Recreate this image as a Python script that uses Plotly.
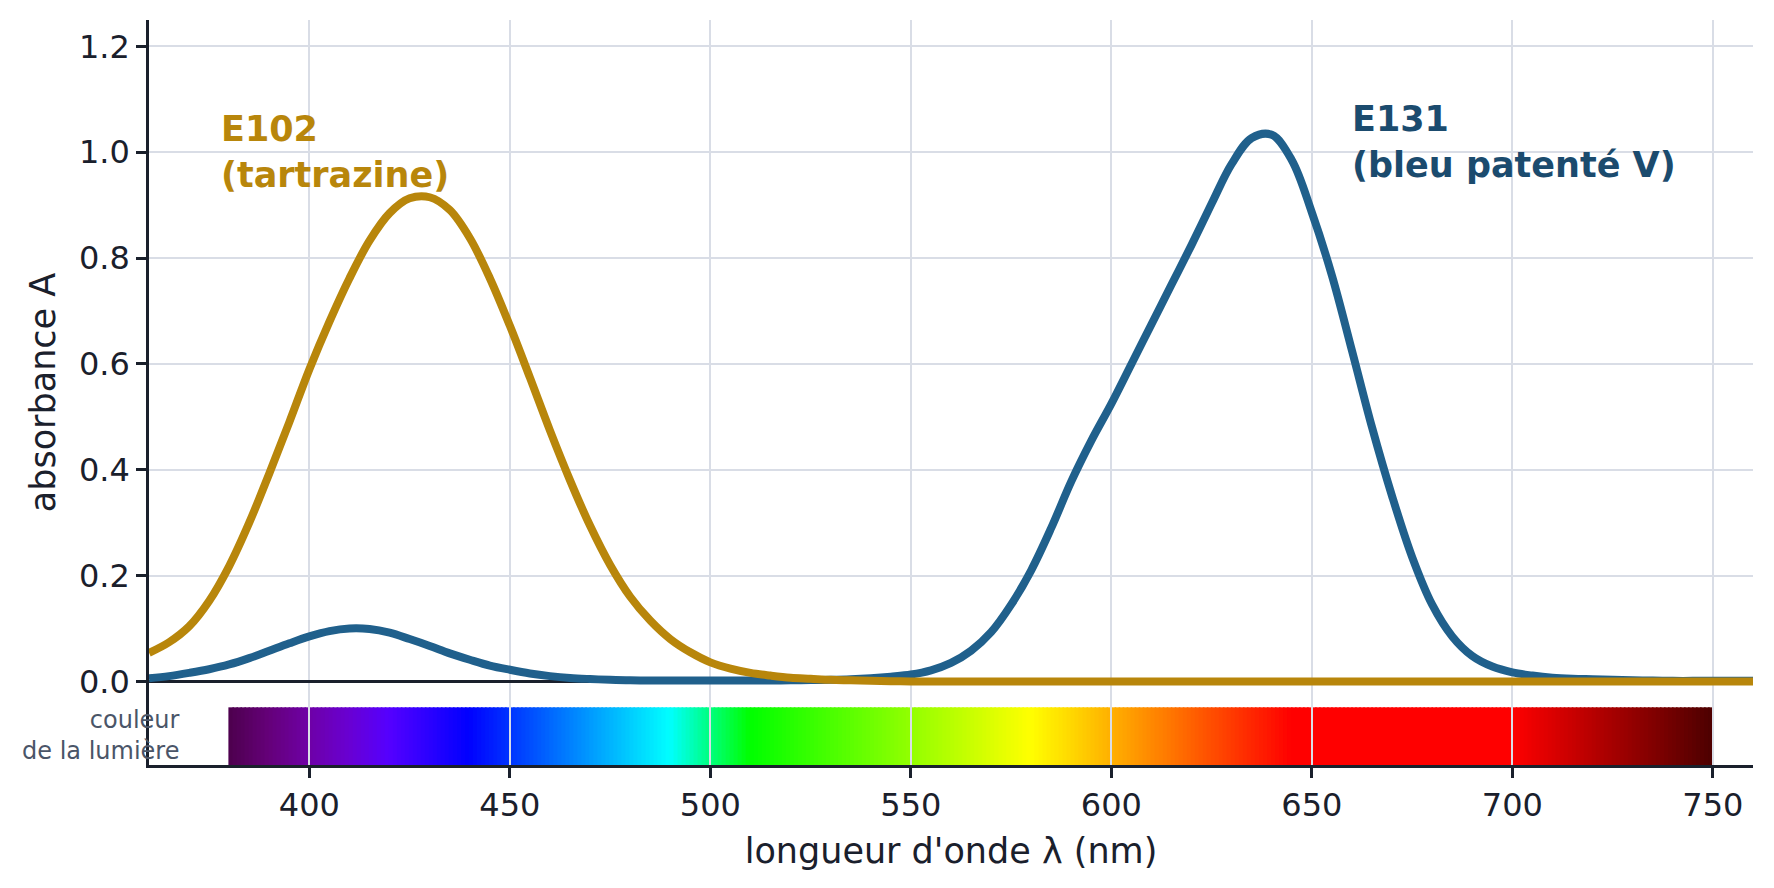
import plotly.graph_objects as go

# ---------------- data ----------------
# wavelength grid (nm), every 5 nm from 360 to 760
wavelength = list(range(360, 765, 5))

absorb_e102 = [0.054, 0.074, 0.104, 0.152, 0.218, 0.300, 0.393, 0.490, 0.590, 0.680,   # 360-405
               0.762, 0.833, 0.885, 0.913, 0.915, 0.891, 0.838, 0.762, 0.672, 0.574,   # 410-455
               0.474, 0.380, 0.294, 0.220, 0.160, 0.115, 0.080, 0.055, 0.036, 0.024,   # 460-505
               0.016, 0.011, 0.007, 0.005, 0.003, 0.002, 0.001, 0.0005, 0.0, 0.0,      # 510-555
               0.0, 0.0, 0.0, 0.0, 0.0, 0.0, 0.0, 0.0, 0.0, 0.0,                       # 560-605
               0.0, 0.0, 0.0, 0.0, 0.0, 0.0, 0.0, 0.0, 0.0, 0.0,                       # 610-655
               0.0, 0.0, 0.0, 0.0, 0.0, 0.0, 0.0, 0.0, 0.0, 0.0,                       # 660-705
               0.0, 0.0, 0.0, 0.0, 0.0, 0.0, 0.0, 0.0, 0.0, 0.0,                       # 710-755
               0.0]                                                                    # 760

absorb_e131 = [0.006, 0.010, 0.016, 0.023, 0.032, 0.044, 0.058, 0.072, 0.085, 0.095,   # 360-405
               0.100, 0.099, 0.092, 0.080, 0.067, 0.053, 0.041, 0.030, 0.022, 0.015,   # 410-455
               0.010, 0.0065, 0.0045, 0.003, 0.002, 0.0017, 0.0015, 0.0015, 0.0015, 0.0015,  # 460-505
               0.0015, 0.0018, 0.002, 0.0025, 0.003, 0.004, 0.006, 0.009, 0.013, 0.021,  # 510-555
               0.035, 0.058, 0.093, 0.145, 0.210, 0.290, 0.378, 0.455, 0.525, 0.600,   # 560-605
               0.675, 0.750, 0.825, 0.903, 0.978, 1.027, 1.033, 0.985, 0.886, 0.767,   # 610-655
               0.625, 0.480, 0.350, 0.235, 0.145, 0.085, 0.048, 0.028, 0.017, 0.011,   # 660-705
               0.007, 0.005, 0.004, 0.003, 0.002, 0.0015, 0.001, 0.001, 0.001, 0.001,  # 710-755
               0.001]                                                                  # 760

# colour of light (spectrum strip), key stops
spectrum_nm = [380, 390, 400, 410, 420, 430, 440, 490, 510, 580, 645, 700, 750]
spectrum_rgb = [(77, 0, 77), (101, 0, 121), (110, 0, 166), (105, 0, 210), (85, 0, 255),
                (43, 0, 255), (0, 0, 255), (0, 255, 255), (0, 255, 0), (255, 255, 0),
                (255, 0, 0), (255, 0, 0), (77, 0, 0)]

x_ticks = [400, 450, 500, 550, 600, 650, 700, 750]
y_ticks = [0.0, 0.2, 0.4, 0.6, 0.8, 1.0, 1.2]

GOLD = "#b8860b"
BLUE = "#20608c"
BLUE_TXT = "#1b4b6e"
DARK = "#1a202c"
GRID = "#d9dde6"


def colour_at(nm):
    for i in range(len(spectrum_nm) - 1):
        a, b = spectrum_nm[i], spectrum_nm[i + 1]
        if a <= nm <= b:
            t = (nm - a) / (b - a)
            c0, c1 = spectrum_rgb[i], spectrum_rgb[i + 1]
            r, g, bl = (round(c0[k] + t * (c1[k] - c0[k])) for k in range(3))
            return f"rgb({r},{g},{bl})"
    return "rgb(0,0,0)"


fig = go.Figure()

fig.add_trace(go.Scatter(x=wavelength, y=absorb_e131, mode="lines",
                         line=dict(color=BLUE, width=8, shape="spline", smoothing=1.0),
                         showlegend=False, hoverinfo="skip"))
fig.add_trace(go.Scatter(x=wavelength, y=absorb_e102, mode="lines",
                         line=dict(color=GOLD, width=8, shape="spline", smoothing=1.0),
                         showlegend=False, hoverinfo="skip"))

shapes = []
for nm in range(spectrum_nm[0], spectrum_nm[-1]):
    shapes.append(dict(type="rect", xref="x", yref="y", x0=nm - 0.2, x1=nm + 1.2,
                       y0=-0.158, y1=-0.049, fillcolor=colour_at(nm + 0.5),
                       line=dict(width=0), layer="below"))

annotations = [
    dict(x=377.5, y=1.085, xref="x", yref="y", xanchor="left", yanchor="top", align="left",
         text="<b>E102<br>(tartrazine)</b>", showarrow=False,
         font=dict(family="DejaVu Sans", size=35, color=GOLD)),
    dict(x=659.6, y=1.105, xref="x", yref="y", xanchor="left", yanchor="top", align="left",
         text="<b>E131<br>(bleu patenté V)</b>", showarrow=False,
         font=dict(family="DejaVu Sans", size=35, color=BLUE_TXT)),
    dict(x=368.2, y=-0.103, xref="x", yref="y", xanchor="right", yanchor="middle", align="right",
         text="couleur<br>de la lumière", showarrow=False,
         font=dict(family="DejaVu Sans", size=24, color="#4a5568")),
]

fig.update_layout(
    width=1774, height=888,
    margin=dict(l=141, r=29, t=12, b=131),
    paper_bgcolor="white", plot_bgcolor="white",
    font=dict(family="DejaVu Sans", color=DARK),
    shapes=shapes, annotations=annotations,
    xaxis=dict(range=[360, 760], tickvals=x_ticks, ticks="outside", ticklen=10, tickwidth=2.5,
               tickcolor=DARK, showline=True, linecolor=DARK, linewidth=2.5,
               showgrid=True, gridcolor=GRID, gridwidth=2, zeroline=False,
               tickfont=dict(size=32, color=DARK),
               title=dict(text="longueur d'onde λ (nm)", font=dict(size=35, color=DARK), standoff=16)),
    yaxis=dict(range=[-0.158, 1.25], tickvals=y_ticks, ticktext=[f"{v:.1f}" for v in y_ticks],
               ticks="outside", ticklen=10, tickwidth=2.5, tickcolor=DARK,
               showline=True, linecolor=DARK, linewidth=2.5,
               showgrid=True, gridcolor=GRID, gridwidth=2,
               zeroline=True, zerolinecolor=DARK, zerolinewidth=2.5,
               tickfont=dict(size=32, color=DARK),
               title=dict(text="absorbance A", font=dict(size=35, color=DARK), standoff=13)),
)

fig.write_html("out.html")
